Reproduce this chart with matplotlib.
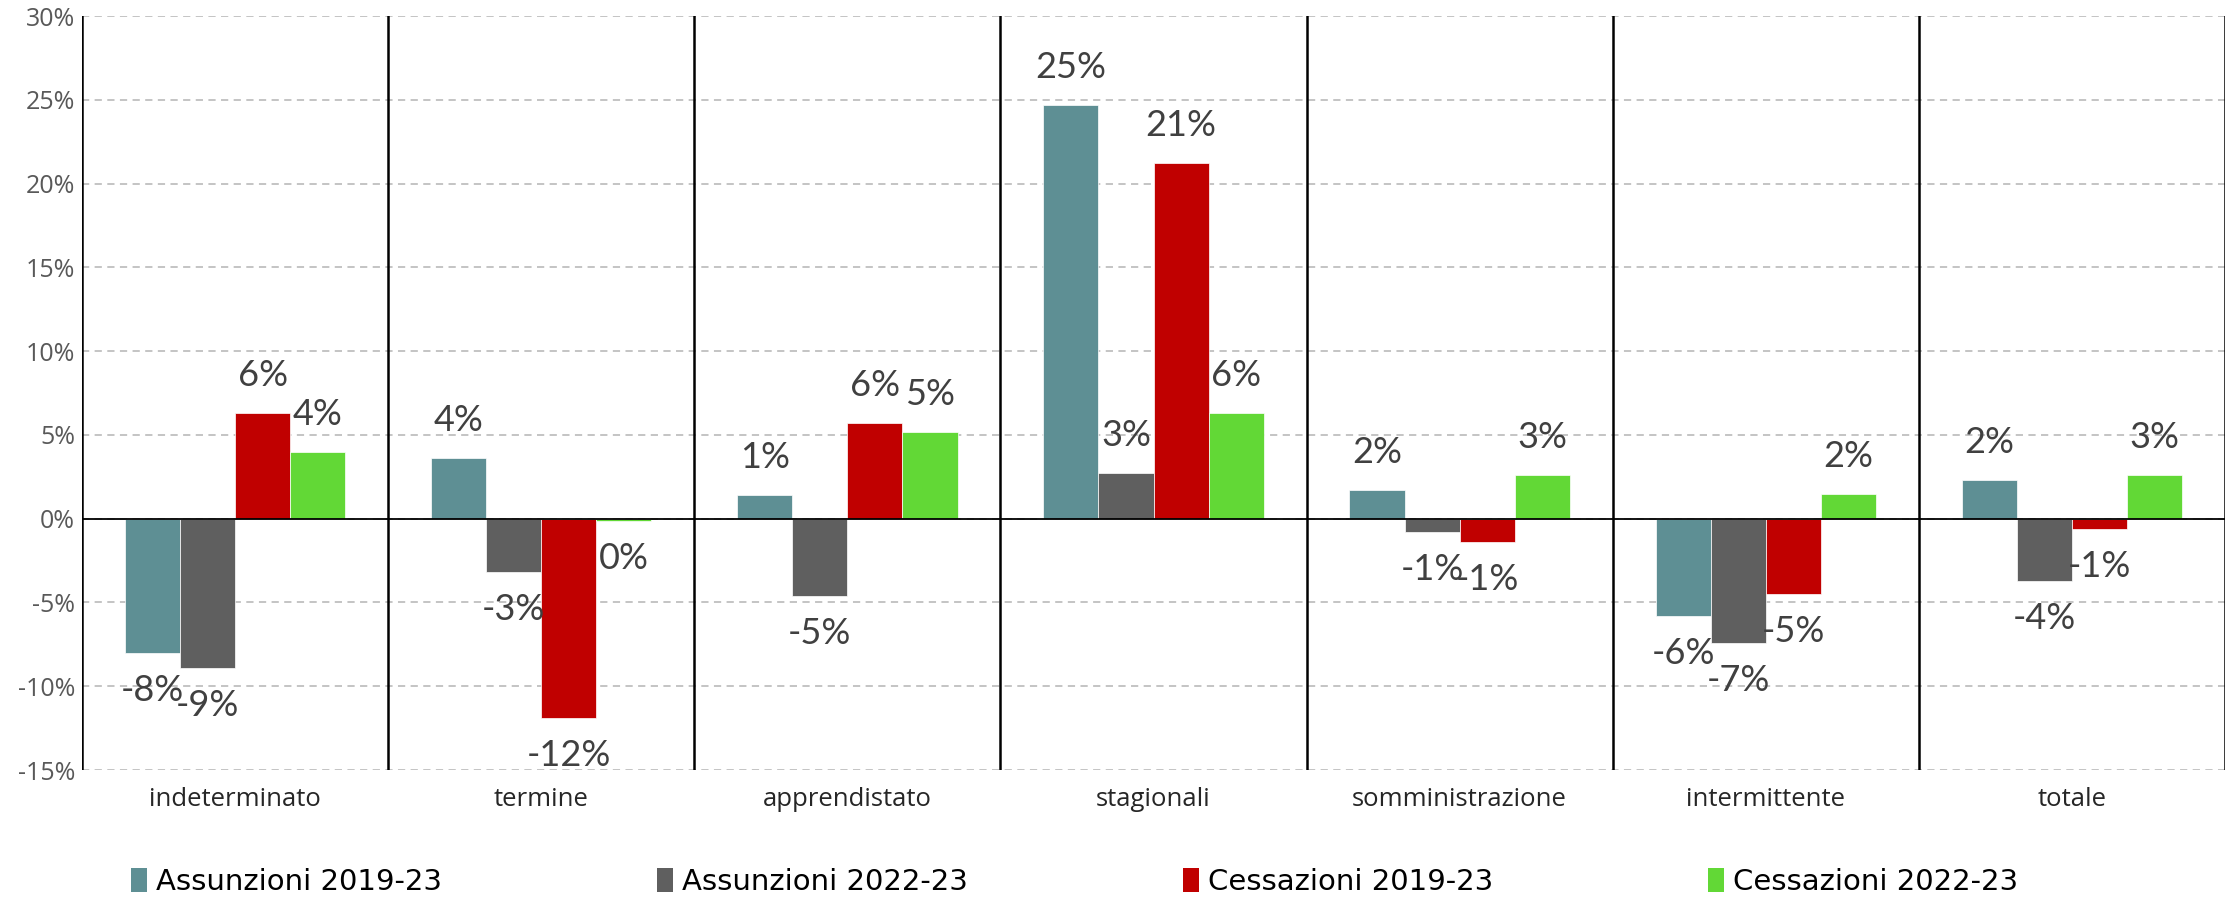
import matplotlib
matplotlib.use("Agg")
import matplotlib.pyplot as plt
import numpy as np
import math
from matplotlib.patches import Patch

categories = ["indeterminato", "termine", "apprendistato", "stagionali",
              "somministrazione", "intermittente", "totale"]
series_names = ["Assunzioni 2019-23", "Assunzioni 2022-23",
                "Cessazioni 2019-23", "Cessazioni 2022-23"]
assunzioni_2019_23 = [-8.0, 3.6, 1.4, 24.7, 1.7, -5.8, 2.3]
assunzioni_2022_23 = [-8.9, -3.2, -4.6, 2.7, -0.8, -7.4, -3.7]
cessazioni_2019_23 = [6.3, -11.9, 5.7, 21.2, -1.4, -4.5, -0.6]
cessazioni_2022_23 = [4.0, -0.15, 5.2, 6.3, 2.6, 1.5, 2.6]
y_ticks = [-15, -10, -5, 0, 5, 10, 15, 20, 25, 30]

series = [assunzioni_2019_23, assunzioni_2022_23, cessazioni_2019_23, cessazioni_2022_23]
colors = ["#5E8F94", "#5F5F5F", "#C00000", "#62D836"]


def fmt(v):
    r = int(math.floor(abs(v) + 0.5)) * (1 if v >= 0 else -1)
    return f"{r}%" if r != 0 else "0%"


W, H = 2229, 899
fig = plt.figure(figsize=(W / 100, H / 100), dpi=100)
ax = fig.add_axes([82 / W, 1 - 770 / H, (2225 - 82) / W, (770 - 16) / H])

n = len(categories)
x = np.arange(n)
bw = 0.18
offsets = (np.arange(4) - 1.5) * bw

for vals, col, off in zip(series, colors, offsets):
    ax.bar(x + off, vals, width=bw, color=col, edgecolor="white",
           linewidth=0.5, zorder=3)
    for xi, v in zip(x + off, vals):
        dy = 27 if v >= 0 else -27
        ax.annotate(fmt(v), (xi, v), xytext=(0, dy), textcoords="offset points",
                    ha="center", va="center", fontsize=26, color="#404040",
                    family=["Lato", "DejaVu Sans"], zorder=5)

ax.set_xlim(-0.5, n - 0.5)
ax.set_ylim(-15, 30)
ax.set_yticks(y_ticks)
ax.set_yticklabels([f"{t}%" for t in y_ticks], fontsize=18, color="#595959",
                   family=["Open Sans", "DejaVu Sans"])
ax.set_xticks(x)
ax.set_xticklabels(categories, fontsize=18.5, color="#262626",
                   family=["Open Sans", "DejaVu Sans"])
ax.tick_params(axis="both", length=0)
ax.tick_params(axis="x", pad=12)
ax.tick_params(axis="y", pad=5)

ax.yaxis.grid(True, linestyle=(0, (4, 3)), color="#BFBFBF", linewidth=1.3, zorder=0)
ax.set_axisbelow(True)
for s in ["top", "bottom", "right", "left"]:
    ax.spines[s].set_visible(False)

for b in np.arange(n + 1) - 0.5:
    ax.axvline(b, color="black", linewidth=1.8, zorder=4)
ax.axhline(0, color="black", linewidth=1.3, zorder=4)

legend_x = [131, 657, 1183, 1708]
for name, col, lx in zip(series_names, colors, legend_x):
    fig.legend(handles=[Patch(facecolor=col, edgecolor="none", label=name)],
               loc="center left", bbox_to_anchor=(lx / W, 1 - 882 / H),
               frameon=False, handlelength=0.55, handleheight=0.9,
               handletextpad=0.3, borderaxespad=0, borderpad=0,
               prop={"family": ["Liberation Sans Narrow", "DejaVu Sans"], "size": 21})

fig.savefig("out.png", dpi=100)
